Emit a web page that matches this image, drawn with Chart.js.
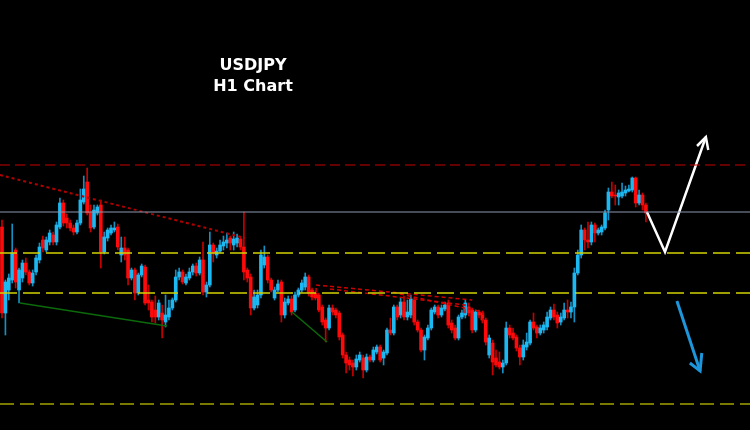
<!DOCTYPE html>
<html>
<head>
<meta charset="utf-8">
<script src="https://cdn.jsdelivr.net/npm/chart.js@4.4.0/dist/chart.umd.min.js"></script>
<style>
  html, body { margin: 0; padding: 0; background: #000; }
  #wrap { position: relative; width: 750px; height: 430px; }
  #title { position: absolute; left: 153px; top: 54px; width: 200px; text-align: center;
           color: #fff; font: bold 16px/21px "DejaVu Sans", sans-serif; }
</style>
</head>
<body>
<div id="wrap">
  <canvas id="chart" width="750" height="430"></canvas>
  <div id="title">USDJPY<br>H1 Chart</div>
</div>
<script>
// H1 candles, price in points (chart has no price labels)
var opens = [203,117,140,150,180,140,152,167,158,147, 158,170,190,180,188,195,188,203,227,212,
  207,202,198,207,228,248,218,203,217,225, 178,192,197,200,203,175,182,180,152,160,
  137,155,163,130,128,120,113,117,108,113, 122,130,153,158,147,152,158,164,157,170,
  138,145,185,175,179,184,187,192,185,187, 191,183,160,153,122,125,135,165,173,150,
  132,140,148,115,127,131,120,135,140,143, 153,140,137,135,123,110,102,122,120,117,
  95,75,70,67,63,70,72,60,73,70, 78,83,72,77,100,97,123,115,128,113,
  115,130,108,100,80,92,102,118,123,115, 121,127,107,102,92,113,115,123,120,100,
  118,117,110,75,87,72,68,63,67,102, 97,93,82,73,83,87,108,103,97,100,
  103,112,120,115,108,112,120,118,123,157, 175,200,190,188,205,197,198,202,220,238,
  235,233,234,237,239,240,252,227,235,225];
var highs = [210,150,156,206,182,162,170,172,160,160, 175,187,194,193,200,198,208,232,230,216,
  210,205,210,241,254,262,225,225,225,230, 198,202,205,208,206,193,193,182,162,162,
  157,166,165,145,130,134,130,125,135,130, 132,160,162,160,156,162,166,167,173,188,
  148,198,187,182,190,194,197,194,198,196, 193,218,162,156,140,140,180,184,175,152,
  143,150,150,132,134,134,138,142,150,157, 155,142,139,137,125,112,125,125,122,119,
  97,78,73,70,75,78,75,76,75,83, 85,85,80,102,112,125,125,132,134,130,
  135,132,110,102,95,105,122,125,125,125, 128,130,110,105,115,120,130,127,122,120,
  120,119,112,95,90,80,78,70,108,105, 102,95,85,90,97,110,117,105,105,108,
  118,123,126,118,117,127,130,128,162,180, 205,202,208,208,207,202,205,220,242,248,
  245,240,247,244,245,253,253,240,237,227];
var lows = [112,95,130,147,142,127,148,155,145,144, 155,167,178,178,185,185,185,201,204,202,
  199,195,196,205,226,215,198,201,215,162, 176,189,195,198,180,168,170,145,150,130,
  135,153,125,120,108,107,110,92,103,110, 120,128,150,146,145,150,155,154,155,135,
  133,143,168,172,177,180,182,180,180,183, 180,150,148,115,120,122,132,162,147,138,
  130,138,108,112,125,115,118,133,138,140, 134,130,130,118,105,88,100,115,112,90,
  72,57,60,54,60,68,52,58,68,68, 76,68,65,75,95,95,110,112,110,110,
  112,105,98,78,70,90,100,116,112,113, 119,102,97,90,90,111,112,114,97,98,
  112,107,85,72,55,63,61,57,65,92, 90,79,65,70,80,85,100,92,95,97,
  100,110,110,102,105,110,112,112,108,155, 172,180,182,185,188,195,195,200,210,232,
  225,225,232,234,238,238,223,225,220,208];
var closes = [117,148,152,177,148,160,167,158,147,157, 172,183,182,190,197,188,205,227,207,207,
  202,198,207,230,241,217,202,220,223,178, 193,200,202,202,183,182,175,152,160,137,
  155,164,127,127,113,113,127,110,115,122, 130,153,158,148,153,158,164,157,170,138,
  145,185,177,179,185,188,190,187,191,192, 183,158,152,122,133,135,175,173,150,140,
  140,146,115,128,131,118,135,140,147,153, 137,133,132,120,108,102,122,118,115,93,
  75,67,65,63,71,75,60,73,70,80, 83,70,78,100,97,123,113,128,113,118,
  131,108,100,80,93,102,120,123,115,122, 125,105,100,92,113,117,127,117,100,118,
  115,110,88,92,68,65,63,67,102,95, 92,82,73,85,88,108,102,97,102,105,
  113,120,113,107,113,120,118,123,157,175, 200,190,188,205,197,200,203,217,238,234,
  234,237,238,240,241,252,227,235,225,217];

// horizontal levels
var levels = [265, 218, 177, 137, 26];

// drawn objects, x in candle index, y in points
var trendRed = [{x: -0.6, y: 255}, {x: 71.3, y: 192}];
var trendGreen1 = [{x: 5.3, y: 127}, {x: 48.4, y: 104}];
var trendGreen2 = [{x: 85.1, y: 118}, {x: 95.4, y: 88}];
var fanA = [{x: 92.2, y: 138}, {x: 92.2, y: 145}, {x: 138.0, y: 130}];
var fanB = [{x: 96.3, y: 141}, {x: 135.9, y: 125}, {x: 135.9, y: 115}];
var fanC = [{x: 116.8, y: 136}, {x: 141.2, y: 118}, {x: 141.2, y: 110}];
var arrowUp = [{x: 189.3, y: 218}, {x: 194.6, y: 178}, {x: 206.6, y: 293}];
var arrowUpHead = [{x: 204.0, y: 284}, {x: 206.6, y: 293}, {x: 207.3, y: 280}];
var arrowDown = [{x: 198.1, y: 129}, {x: 204.9, y: 59}];
var arrowDownHead = [{x: 201.9, y: 67}, {x: 204.9, y: 59}, {x: 205.4, y: 77}];

var X_MIN = -0.587, X_MAX = 219.55;

var upColor = '#1cb8f2', downColor = '#ff0a0a';
var upWick = '#1690c2', downWick = '#c80000';

function lineSet(data, color, width, dash) {
    return {
        type: 'line',
        data: data,
        borderColor: color,
        borderWidth: width,
        borderDash: dash || [],
        pointRadius: 0,
        fill: false,
        tension: 0,
        order: 0
    };
}

var levelColors = ['#c80000', '#8c9ab0', '#d2d200', '#d2d200', '#7a7a00'];
var levelWidth = [1.2, 1, 1.5, 1.5, 2];
var levelDash = [[10, 5], [], [17, 6], [17, 6], [14, 6]];

var datasets = [];
levels.forEach(function (lv, i) {
    datasets.push(lineSet([{x: X_MIN, y: lv}, {x: X_MAX, y: lv}], levelColors[i], levelWidth[i], levelDash[i]));
});
datasets.push(lineSet(trendRed, '#b00000', 2, [3, 3]));
datasets.push(lineSet(trendGreen1, '#0b6a0b', 1.5));
datasets.push(lineSet(trendGreen2, '#0b6a0b', 1.5));
datasets.push(lineSet(fanA, '#d00000', 1.5, [4, 3]));
datasets.push(lineSet(fanB, '#d00000', 1.5, [4, 3]));
datasets.push(lineSet(fanC, '#d00000', 1.5, [4, 3]));
datasets.push(lineSet(arrowUp, '#ffffff', 2.5));
datasets.push(lineSet(arrowUpHead, '#ffffff', 2.5));
datasets.push(lineSet(arrowDown, '#1e96dc', 3));
datasets.push(lineSet(arrowDownHead, '#1e96dc', 3));

// candle bodies
datasets.push({
    type: 'bar',
    data: opens.map(function (o, i) { return {x: i, y: [o, closes[i]]}; }),
    backgroundColor: opens.map(function (o, i) { return closes[i] >= o ? upColor : downColor; }),
    barThickness: 3,
    minBarLength: 1,
    grouped: false,
    order: 1
});
// wicks
datasets.push({
    type: 'bar',
    data: highs.map(function (h, i) { return {x: i, y: [lows[i], h]}; }),
    backgroundColor: opens.map(function (o, i) { return closes[i] >= o ? upWick : downWick; }),
    barThickness: 1,
    grouped: false,
    order: 2
});

new Chart(document.getElementById('chart'), {
    type: 'bar',
    data: { datasets: datasets },
    options: {
        responsive: false,
        animation: false,
        layout: { padding: 0 },
        plugins: { legend: { display: false }, tooltip: { enabled: false } },
        scales: {
            x: { type: 'linear', display: false, offset: false, min: X_MIN, max: X_MAX },
            y: { display: false, min: 0, max: 430 }
        }
    }
});
</script>
</body>
</html>
